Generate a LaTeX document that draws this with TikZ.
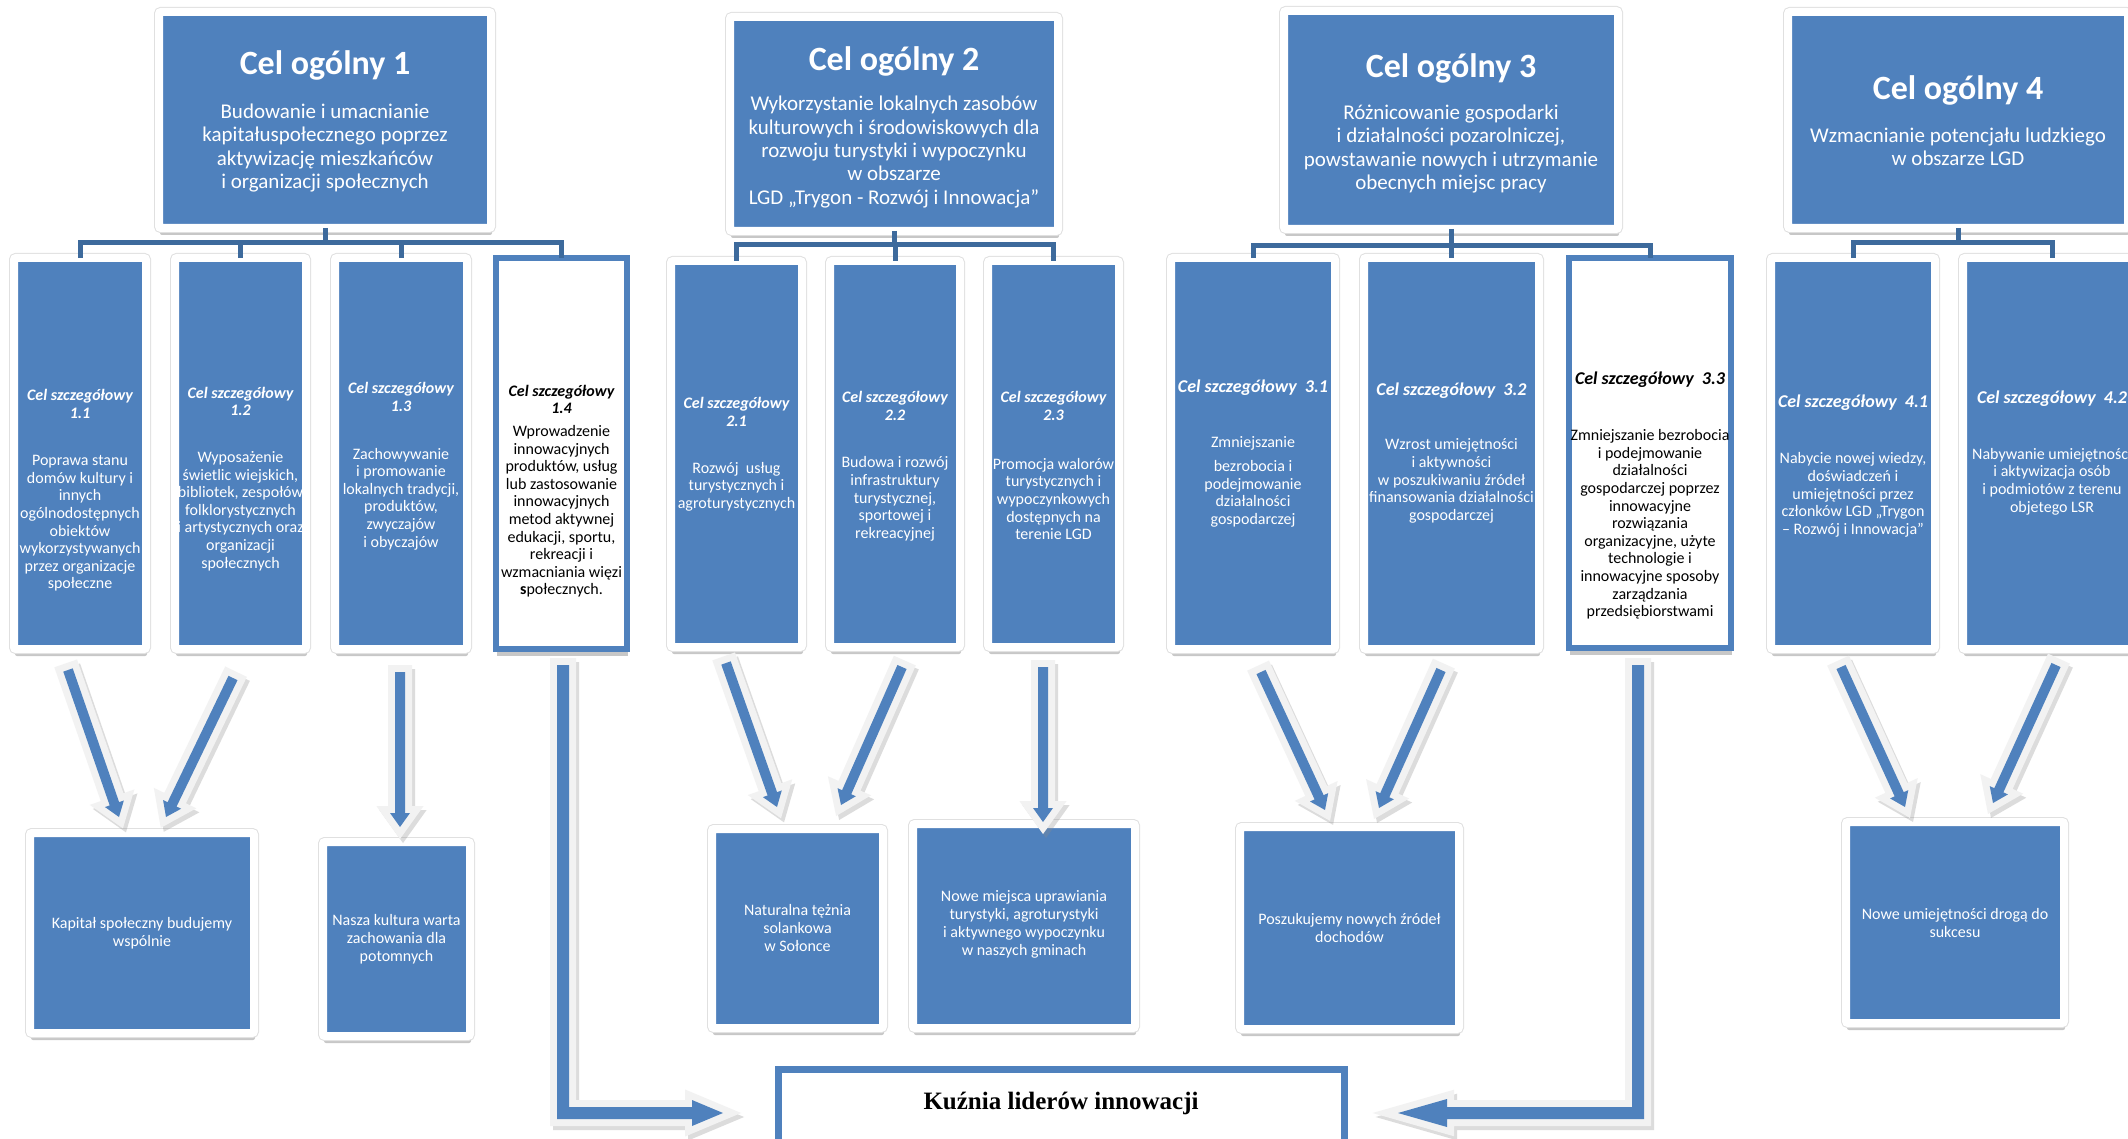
\documentclass[tikz,border=0pt]{standalone}
\usepackage{fontspec}
\setmainfont{Carlito}
\newfontfamily\tnrfont{Liberation Serif}
\usetikzlibrary{calc,shadows}
\definecolor{cblue}{HTML}{4F81BD}
\definecolor{barblue}{HTML}{3D6A9C}
\definecolor{outl}{HTML}{F2F2F2}
\newcommand\fgtitle{\fontsize{34}{38}\selectfont\bfseries}
\newcommand\fgtop{\fontsize{21}{23.3}\selectfont}
\newcommand\fgdet{\fontsize{16}{17.6}\selectfont}
\newcommand\fgdett{\fontsize{16}{17.6}\selectfont\bfseries\itshape}
\newcommand\fgdettb{\fontsize{18}{20}\selectfont\bfseries\itshape}
\newcommand\fgres{\fontsize{16}{18}\selectfont}
\tikzset{
  bshadow/.style={drop shadow={shadow xshift=1pt,shadow yshift=-7pt,opacity=.22,fill=black}},
  bluebox/.style={fill=cblue,draw=white,line width=8pt,rounded corners=2pt,inner sep=0pt,outer sep=0pt,bshadow,
     preaction={draw=black!12,line width=10pt}},
  whitebox/.style={fill=white,draw=cblue,line width=6pt,inner sep=0pt,outer sep=0pt,bshadow},
  bar/.style={draw=barblue,line width=5pt,line join=miter},
  wtxt/.style={text=white,align=center,inner sep=0pt},
  ktxt/.style={text=black,align=center,inner sep=0pt},
  arrshadow/.style={draw=black!45,fill=black!45,line width=14pt,line join=miter,opacity=.3,transform canvas={xshift=3pt,yshift=-4pt}},
  arrline/.style={draw=outl,fill=outl,line width=14pt,line join=miter},
  arrfill/.style={fill=cblue},
}
\newcommand\blockarr[5]{%
  \coordinate (bp) at ($(#2)!#5!(#1)$);
  \coordinate (p1) at ($(#1)!#3!90:(#2)$);
  \coordinate (p2) at ($(bp)!#3!-90:(#1)$);
  \coordinate (p3) at ($(bp)!#4!-90:(#1)$);
  \coordinate (p5) at ($(bp)!#4!90:(#1)$);
  \coordinate (p6) at ($(bp)!#3!90:(#1)$);
  \coordinate (p7) at ($(#1)!#3!-90:(#2)$);
  \draw[arrshadow] (p1)--(p2)--(p3)--(#2)--(p5)--(p6)--(p7)--cycle;
  \draw[arrline] (p1)--(p2)--(p3)--(#2)--(p5)--(p6)--(p7)--cycle;
  \fill[arrfill] (p1)--(p2)--(p3)--(#2)--(p5)--(p6)--(p7)--cycle;
}
\begin{document}
\begin{tikzpicture}[x=1pt,y=-1pt]
\clip (0,0) rectangle (2128,1139);
\fill[white] (0,0) rectangle (2128,1139);

% ---------- coordinates of the tree bars
\coordinate (g1) at (325,243);
\coordinate (g2) at (894,245);
\coordinate (g3) at (1451,246);
\coordinate (g4) at (1958,243);

% ---------- top boxes
\node[bluebox,minimum width=332,minimum height=216] (C1) at (325,120) {};
\node[bluebox,minimum width=328,minimum height=214] (C2) at (894,124) {};
\node[bluebox,minimum width=334,minimum height=218] (C3) at (1451,120) {};
\node[bluebox,minimum width=340,minimum height=216] (C4) at (1958,120) {};

% ---------- bars (behind detail boxes)
\draw[bar] (C1.south) -- (g1);
\draw[bar] (C2.south) -- (g2);
\draw[bar] (C3.south) -- (g3);
\draw[bar] (C4.south) -- (g4);

% ---------- detail boxes
\node[bluebox,minimum width=132,minimum height=391] (D11) at (80,453.5) {};
\node[bluebox,minimum width=131,minimum height=391] (D12) at (240.5,453.5) {};
\node[bluebox,minimum width=132,minimum height=391] (D13) at (401,453.5) {};
\node[whitebox,minimum width=131,minimum height=391] (D14) at (561.5,453.5) {};
\node[bluebox,minimum width=131,minimum height=386] (D21) at (736.5,454) {};
\node[bluebox,minimum width=130,minimum height=386] (D22) at (895,454) {};
\node[bluebox,minimum width=131,minimum height=386] (D23) at (1053.5,454) {};
\node[bluebox,minimum width=164,minimum height=391] (D31) at (1253,453.5) {};
\node[bluebox,minimum width=175,minimum height=391] (D32) at (1451.5,453.5) {};
\node[whitebox,minimum width=162,minimum height=390] (D33) at (1650,453) {};
\node[bluebox,minimum width=164,minimum height=391] (D41) at (1853,453.5) {};
\node[bluebox,minimum width=178,minimum height=391] (D42) at (2052,453.5) {};

\draw[bar] (D11.north) -- (D11.north |- g1) -- (D14.north |- g1) -- (D14.north);
\draw[bar] (D12.north) -- (D12.north |- g1);
\draw[bar] (D13.north) -- (D13.north |- g1);
\draw[bar] (D21.north) -- (D21.north |- g2) -- (D23.north |- g2) -- (D23.north);
\draw[bar] (D22.north) -- (D22.north |- g2);
\draw[bar] (D31.north) -- (D31.north |- g3) -- (D33.north |- g3) -- (D33.north);
\draw[bar] (D32.north) -- (D32.north |- g3);
\draw[bar] (D41.north) -- (D41.north |- g4) -- (D42.north |- g4) -- (D42.north);

% ---------- result boxes
\node[bluebox,minimum width=224,minimum height=200] (R1) at (142,933) {};
\node[bluebox,minimum width=147,minimum height=194] (R2) at (396.5,939) {};
\node[bluebox,minimum width=171,minimum height=199] (R3) at (797.5,928.5) {};
\node[bluebox,minimum width=222,minimum height=204] (R4) at (1024,926) {};
\node[bluebox,minimum width=219,minimum height=202] (R5) at (1349.5,928) {};
\node[bluebox,minimum width=218,minimum height=201] (R6) at (1955,922.5) {};

\node[fill=white,draw=cblue,line width=7pt,inner sep=0pt,outer sep=0pt,minimum width=566,minimum height=121] (K) at (1061.5,1130) {};

% ---------- texts, top boxes
\node[wtxt,font=\fgtitle] (C1t) at (325,65) {Cel ogólny 1};
\node[wtxt,font=\fgtop] (C1b) at (325,148) {Budowanie i umacnianie\\kapitałuspołecznego poprzez\\aktywizację mieszkańców\\i organizacji społecznych};
\node[wtxt,font=\fgtitle] (C2t) at (894,61) {Cel ogólny 2};
\node[wtxt,font=\fgtop] (C2b) at (894,152) {Wykorzystanie lokalnych zasobów\\kulturowych i środowiskowych dla\\rozwoju turystyki i wypoczynku\\w obszarze\\LGD „Trygon - Rozwój i Innowacja”};
\node[wtxt,font=\fgtitle] (C3t) at (1451,68) {Cel ogólny 3};
\node[wtxt,font=\fgtop] (C3b) at (1451,149) {Różnicowanie gospodarki\\i działalności pozarolniczej,\\powstawanie nowych i utrzymanie\\obecnych miejsc pracy};
\node[wtxt,font=\fgtitle] (C4t) at (1958,90) {Cel ogólny 4};
\node[wtxt,font=\fgtop] (C4b) at (1958,147) {Wzmacnianie potencjału ludzkiego\\w obszarze LGD};

% ---------- texts, detail boxes
\node[wtxt,font=\fgdett] (D11t) at (80,404) {Cel szczegółowy\\1.1};
\node[wtxt,font=\fgdet] (D11b) at (80,523.5) {Poprawa stanu\\domów kultury i\\innych\\ogólnodostępnych\\obiektów\\wykorzystywanych\\przez organizacje\\społeczne};
\node[wtxt,font=\fgdett] (D12t) at (240.5,401.5) {Cel szczegółowy\\1.2};
\node[wtxt,font=\fgdet] (D12b) at (240.5,511) {Wyposażenie\\świetlic wiejskich,\\bibliotek, zespołów\\folklorystycznych\\i artystycznych oraz\\organizacji\\społecznych};
\node[wtxt,font=\fgdett] (D13t) at (401,397) {Cel szczegółowy\\1.3};
\node[wtxt,font=\fgdet] (D13b) at (401,499) {Zachowywanie\\i promowanie\\lokalnych tradycji,\\produktów,\\zwyczajów\\i obyczajów};
\node[ktxt,font=\fgdett] (D14t) at (561.5,399.5) {Cel szczegółowy\\1.4};
\node[ktxt,font=\fgdet] (D14b) at (561.5,511.5) {Wprowadzenie\\innowacyjnych\\produktów, usług\\lub zastosowanie\\innowacyjnych\\metod aktywnej\\edukacji, sportu,\\rekreacji i\\wzmacniania więzi\\\textbf{s}połecznych.};

\node[wtxt,font=\fgdett] (D21t) at (736.5,412) {Cel szczegółowy\\2.1};
\node[wtxt,font=\fgdet] (D21b) at (736.5,486.5) {Rozwój\ \ usług\\turystycznych i\\agroturystycznych};
\node[wtxt,font=\fgdett] (D22t) at (895,406) {Cel szczegółowy\\2.2};
\node[wtxt,font=\fgdet] (D22b) at (895,499) {Budowa i rozwój\\infrastruktury\\turystycznej,\\sportowej i\\rekreacyjnej};
\node[wtxt,font=\fgdett] (D23t) at (1053.5,406) {Cel szczegółowy\\2.3};
\node[wtxt,font=\fgdet] (D23b) at (1053.5,499) {Promocja walorów\\turystycznych i\\wypoczynkowych\\dostępnych na\\terenie LGD};

\node[wtxt,font=\fgdettb] (D31t) at (1253,388) {Cel szczegółowy\ \ 3.1};
\node[wtxt,font=\fgdet] (D31b) at (1253,482) {Zmniejszanie\\[6pt]bezrobocia i\\podejmowanie\\działalności\\gospodarczej};
\node[wtxt,font=\fgdettb] (D32t) at (1451.5,391) {Cel szczegółowy\ \ 3.2};
\node[wtxt,font=\fgdet] (D32b) at (1451.5,481) {Wzrost umiejętności\\i aktywności\\w poszukiwaniu źródeł\\finansowania działalności\\gospodarczej};
\node[ktxt,font=\fgdettb] (D33t) at (1650,380) {Cel szczegółowy\ \ 3.3};
\node[ktxt,font=\fgdet] (D33b) at (1650,524.5) {Zmniejszanie bezrobocia\\i podejmowanie\\działalności\\gospodarczej poprzez\\innowacyjne\\rozwiązania\\organizacyjne, użyte\\technologie i\\innowacyjne sposoby\\zarządzania\\przedsiębiorstwami};

\node[wtxt,font=\fgdettb] (D41t) at (1853,403) {Cel szczegółowy\ \ 4.1};
\node[wtxt,font=\fgdet] (D41b) at (1853,495) {Nabycie nowej wiedzy,\\doświadczeń i\\umiejętności przez\\członków LGD „Trygon\\– Rozwój i Innowacja”};
\node[wtxt,font=\fgdettb] (D42t) at (2052,399) {Cel szczegółowy\ \ 4.2};
\node[wtxt,font=\fgdet] (D42b) at (2052,481.5) {Nabywanie umiejętności\\i aktywizacja osób\\i podmiotów z terenu\\objetego LSR};

% ---------- texts, result boxes
\node[wtxt,font=\fgres] (R1t) at (142,933) {Kapitał społeczny budujemy\\wspólnie};
\node[wtxt,font=\fgres] (R2t) at (396.5,939.5) {Nasza kultura warta\\zachowania dla\\potomnych};
\node[wtxt,font=\fgres] (R3t) at (797.5,927.5) {Naturalna tężnia\\solankowa\\w Sołonce};
\node[wtxt,font=\fgres] (R4t) at (1024,924) {Nowe miejsca uprawiania\\turystyki, agroturystyki\\i aktywnego wypoczynku\\w naszych gminach};
\node[wtxt,font=\fgres] (R5t) at (1349.5,928) {Poszukujemy nowych źródeł\\dochodów};
\node[wtxt,font=\fgres] (R6t) at (1955,923) {Nowe umiejętności drogą do\\sukcesu};

\node[ktxt,font=\tnrfont\bfseries\fontsize{25}{28}\selectfont] (Kt) at (1061,1103) {Kuźnia liderów innowacji};

% ---------- arrows
\coordinate (a1s) at (68,670);   \coordinate (a1e) at (119,817);
\coordinate (a2s) at (233,678);  \coordinate (a2e) at (166,817);
\coordinate (a3s) at (400,672);  \coordinate (a3e) at (400,827);
\coordinate (a4s) at (726,663);  \coordinate (a4e) at (777,807);
\coordinate (a5s) at (902,667);  \coordinate (a5e) at (841,805);
\coordinate (a6s) at (1043,667); \coordinate (a6e) at (1043,822);
\coordinate (a7s) at (1261,672); \coordinate (a7e) at (1325,810);
\coordinate (a8s) at (1441,670); \coordinate (a8e) at (1379,808);
\coordinate (a9s) at (1841,667); \coordinate (a9e) at (1905,807);
\coordinate (a10s) at (2056,665); \coordinate (a10e) at (1993,803);
\blockarr{a1s}{a1e}{5pt}{10pt}{14pt}
\blockarr{a2s}{a2e}{5pt}{10pt}{14pt}
\blockarr{a3s}{a3e}{5pt}{10pt}{14pt}
\blockarr{a4s}{a4e}{5pt}{10pt}{14pt}
\blockarr{a5s}{a5e}{5pt}{10pt}{14pt}
\blockarr{a6s}{a6e}{5pt}{10pt}{14pt}
\blockarr{a7s}{a7e}{5pt}{10pt}{14pt}
\blockarr{a8s}{a8e}{5pt}{10pt}{14pt}
\blockarr{a9s}{a9e}{5pt}{10pt}{14pt}
\blockarr{a10s}{a10e}{5pt}{10pt}{14pt}

% ---------- L-shaped arrows into "Kuźnia"
\foreach \st in {arrshadow,arrline,arrfill}{
  \path[\st] (557,665) -- (557,1119) -- (692,1119) -- (692,1126) -- (723,1113) -- (692,1100) -- (692,1107) -- (569,1107) -- (569,665) -- cycle;
  \path[\st] (1644,665) -- (1644,1119) -- (1447,1119) -- (1447,1127) -- (1398,1113) -- (1447,1099) -- (1447,1107) -- (1632,1107) -- (1632,665) -- cycle;
}
\end{tikzpicture}
\end{document}
